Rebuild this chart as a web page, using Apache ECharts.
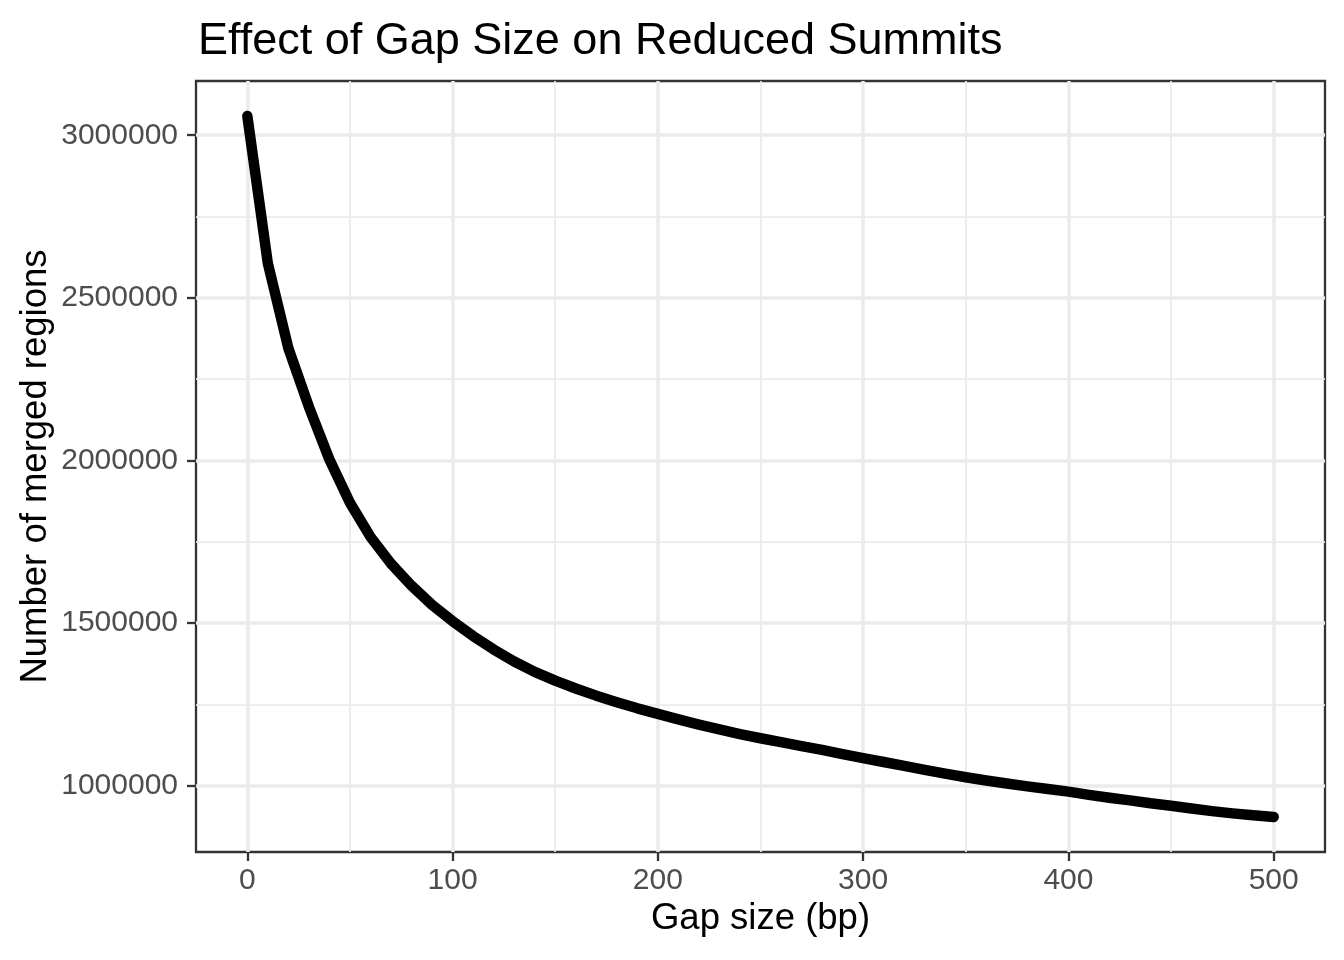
<!DOCTYPE html>
<html>
<head>
<meta charset="utf-8">
<script src="https://cdn.jsdelivr.net/npm/echarts@6/dist/echarts.min.js"></script>
<style>
html,body{margin:0;padding:0;background:#fff;}
#chart{width:1344px;height:960px;}
</style>
</head>
<body>
<div id="chart"></div>
<script>
const titleText = 'Effect of Gap Size on Reduced Summits';
const xTitle = 'Gap size (bp)';
const yTitle = 'Number of merged regions';

const gaps = [0,10,20,30,40,50,60,70,80,90,100,110,120,130,140,150,160,170,180,190,200,
  210,220,230,240,250,260,270,280,290,300,310,320,330,340,350,360,370,380,390,400,
  410,420,430,440,450,460,470,480,490,500];
const mergedRegions = [3059000,2606000,2345000,2165000,2003000,1870000,1765000,1683000,1615000,1556000,1506000,
  1460000,1419000,1382000,1350000,1323000,1299000,1277000,1257000,1238000,1221000,
  1204000,1188000,1173000,1159000,1146000,1134000,1122000,1110000,1097000,1085000,
  1073000,1061000,1049000,1037000,1026000,1016000,1007000,998000,990000,982000,
  972000,963000,955000,946000,938500,930000,922000,915000,909000,904000];

const xTicks = [0,100,200,300,400,500];
const xMinorTicks = [50,150,250,350,450];
const yTicks = [1000000,1500000,2000000,2500000,3000000];
const yMinorTicks = [1250000,1750000,2250000,2750000];

// ggplot-like 5% expansion
const xMinD = Math.min(...gaps), xMaxD = Math.max(...gaps);
const xPad = (xMaxD - xMinD) * 0.05;
const yMinD = Math.min(...mergedRegions), yMaxD = Math.max(...mergedRegions);
const yPad = (yMaxD - yMinD) * 0.05;

const FONT = '"Liberation Sans", Arial, "DejaVu Sans", sans-serif';
const GRID_COLOR = '#EBEBEB';
const DARK = '#333333';

const chart = echarts.init(document.getElementById('chart'), null, {renderer: 'canvas'});

chart.setOption({
  animation: false,
  backgroundColor: '#ffffff',
  title: {
    text: titleText,
    left: 193,
    top: 14,
    textStyle: {fontFamily: FONT, fontSize: 45, fontWeight: 'normal', color: '#000000'}
  },
  grid: {
    left: 196, right: 19, top: 81, bottom: 108,
    show: true, borderColor: DARK, borderWidth: 2.3, backgroundColor: 'transparent'
  },
  xAxis: [
    {
      type: 'value', min: xMinD - xPad, max: xMaxD + xPad, position: 'bottom',
      name: xTitle, nameLocation: 'middle', nameGap: 48, nameMoveOverlap: false,
      nameTextStyle: {fontFamily: FONT, fontSize: 36.5, color: '#000000'},
      axisLine: {show: false, onZero: false},
      axisTick: {show: true, length: 9, customValues: xTicks, lineStyle: {color: DARK, width: 2.3}},
      axisLabel: {show: true, customValues: xTicks, margin: 14, fontFamily: FONT, fontSize: 30, color: '#4D4D4D',
        formatter: v => String(v)},
      splitLine: {show: true, lineStyle: {color: GRID_COLOR, width: 3.5}}
    },
    {
      type: 'value', min: xMinD - xPad, max: xMaxD + xPad, position: 'top',
      axisLine: {show: false, onZero: false},
      axisTick: {show: false, customValues: xMinorTicks},
      axisLabel: {show: false, customValues: xMinorTicks},
      splitLine: {show: true, lineStyle: {color: GRID_COLOR, width: 1.75}}
    }
  ],
  yAxis: [
    {
      type: 'value', min: yMinD - yPad, max: yMaxD + yPad, position: 'left',
      name: yTitle, nameLocation: 'middle', nameGap: 142, nameRotate: 90, nameMoveOverlap: false,
      nameTextStyle: {fontFamily: FONT, fontSize: 36.5, color: '#000000'},
      axisLine: {show: false, onZero: false},
      axisTick: {show: true, length: 9, customValues: yTicks, lineStyle: {color: DARK, width: 2.3}},
      axisLabel: {show: true, customValues: yTicks, margin: 18, fontFamily: FONT, fontSize: 30, color: '#4D4D4D',
        formatter: v => String(v)},
      splitLine: {show: true, lineStyle: {color: GRID_COLOR, width: 3.5}}
    },
    {
      type: 'value', min: yMinD - yPad, max: yMaxD + yPad, position: 'right',
      axisLine: {show: false, onZero: false},
      axisTick: {show: false, customValues: yMinorTicks},
      axisLabel: {show: false, customValues: yMinorTicks},
      splitLine: {show: true, lineStyle: {color: GRID_COLOR, width: 1.75}}
    }
  ],
  series: [
    {
      type: 'line',
      xAxisIndex: 0, yAxisIndex: 0,
      data: gaps.map((g, i) => [g, mergedRegions[i]]),
      showSymbol: false,
      symbol: 'none',
      smooth: false,
      silent: true,
      lineStyle: {color: '#000000', width: 10.5, cap: 'round', join: 'round'},
      emphasis: {disabled: true},
      z: 5
    }
  ]
});
</script>
</body>
</html>
